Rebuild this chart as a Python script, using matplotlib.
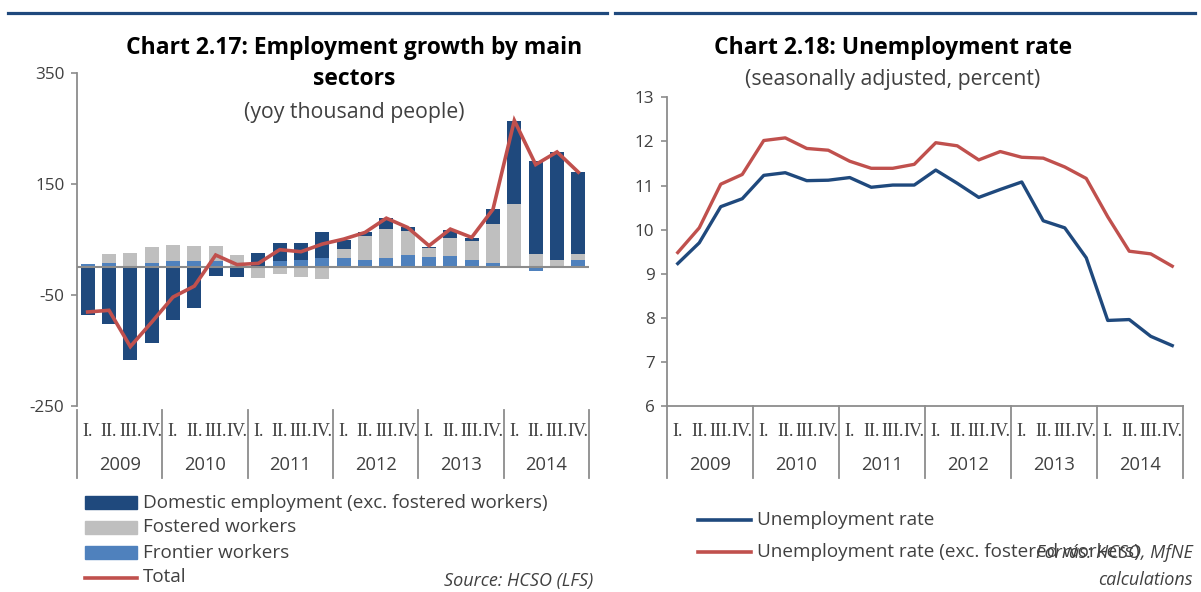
import matplotlib
matplotlib.use('Agg')
import matplotlib.pyplot as plt
import matplotlib.transforms as mtransforms
from matplotlib.lines import Line2D
from matplotlib.patches import Rectangle
import numpy as np

# Размер итоговой картинки в пикселях
W, H = 1201, 592

years = ['2009', '2010', '2011', '2012', '2013', '2014']
quarters = ['I.', 'II.', 'III.', 'IV.']

# Рост занятости по секторам, тыс. человек (г/г)
domestic = [-86.6, -102.7, -167.0, -137.3, -94.3, -73.4, -15.5, -18.0,
            24.0, 31.6, 29.9, 46.6, 16.7, 7.2, 18.5, 6.6,
            2.4, 15.0, 4.1, 26.9, 151.0, 167.0, 194.7, 147.4]
fostered = [0.0, 15.5, 25.0, 29.3, 29.3, 28.0, 26.3, 19.0,
            -19.0, -13.0, -16.7, -22.0, 16.1, 42.4, 53.1, 43.0,
            16.1, 31.0, 34.7, 69.8, 113.4, 23.9, 13.1, 10.8]
frontier = [5.4, 8.4, 0.0, 7.8, 10.7, 10.7, 11.3, 3.0,
            2.0, 12.0, 13.7, 16.1, 16.7, 13.1, 16.7, 22.1,
            18.5, 20.9, 13.1, 7.8, 0.0, -6.0, 0.0, 13.1]
total = [-80.6, -77.6, -143.0, -99.0, -53.7, -34.0, 22.0, 4.8,
         7.0, 31.6, 28.0, 41.8, 50.7, 62.7, 88.4, 71.6,
         38.8, 68.7, 53.7, 104.5, 264.5, 185.0, 207.8, 171.3]

# Уровень безработицы, %, сезонно скорректированный
unemp = [9.23, 9.70, 10.52, 10.70, 11.23, 11.29, 11.11, 11.12,
         11.18, 10.96, 11.01, 11.01, 11.35, 11.05, 10.73, 10.91,
         11.08, 10.20, 10.04, 9.36, 7.94, 7.96, 7.58, 7.37]
unemp_exc = [9.48, 10.04, 11.03, 11.25, 12.02, 12.08, 11.84, 11.80,
             11.55, 11.39, 11.39, 11.48, 11.97, 11.90, 11.58, 11.77,
             11.64, 11.62, 11.42, 11.16, 10.29, 9.51, 9.45, 9.17]

NAVY = '#1F497D'
GREY = '#BFBFBF'
LBLUE = '#4F81BD'
RED = '#C0504D'
AXIS = '#8C8C8C'
TXT = '#404040'

plt.rcParams['font.family'] = ['Open Sans', 'DejaVu Sans']
plt.rcParams['axes.unicode_minus'] = False

fig = plt.figure(figsize=(W / 100, H / 100), dpi=100)


def fy(y):
    return 1 - y / H


def px_axes(x0, y0, x1, y1):
    return fig.add_axes([x0 / W, fy(y1), (x1 - x0) / W, (y1 - y0) / H])


def style_axes(ax, show_bottom):
    for s in ['top', 'right']:
        ax.spines[s].set_visible(False)
    ax.spines['bottom'].set_visible(show_bottom)
    for s in ['left', 'bottom']:
        ax.spines[s].set_color(AXIS)
        ax.spines[s].set_linewidth(1.3)
    ax.tick_params(axis='y', length=4, width=1.2, color=AXIS,
                   labelsize=12.3, labelcolor=TXT, pad=5)
    ax.tick_params(axis='x', length=0, labelbottom=False)
    ax.set_xlim(-0.5, len(years) * 4 - 0.5)


def category_axis(ax, top_px):
    # двухуровневая подпись оси: кварталы и годы с разделителями
    trans = mtransforms.blended_transform_factory(ax.transData, fig.transFigure)
    n = len(years) * 4
    for i in range(n):
        ax.text(i, fy(431), quarters[i % 4], transform=trans, ha='center',
                va='center', fontsize=13, color=TXT,
                family='Liberation Serif')
    for j, yr in enumerate(years):
        ax.text(j * 4 + 1.5, fy(465), yr, transform=trans, ha='center',
                va='center', fontsize=13.2, color=TXT)
    for b in range(len(years) + 1):
        ax.add_artist(Line2D([b * 4 - 0.5] * 2, [fy(top_px), fy(478)],
                             transform=trans, color=AXIS, lw=1.3,
                             clip_on=False))


# Верхние синие линии-разделители
fig.add_artist(Line2D([8 / W, 607 / W], [fy(13)] * 2, color=NAVY, lw=2.3))
fig.add_artist(Line2D([615 / W, 1195 / W], [fy(13)] * 2, color=NAVY, lw=2.3))

# ---------- Chart 2.17 ----------
ax1 = px_axes(77, 73, 589, 406)
style_axes(ax1, show_bottom=False)
ax1.set_ylim(-250, 350)
ax1.set_yticks([-250, -50, 150, 350])

x = np.arange(len(total))
pos_base = np.zeros(len(x))
neg_base = np.zeros(len(x))
for vals, color in [(frontier, LBLUE), (fostered, GREY), (domestic, NAVY)]:
    v = np.array(vals)
    bottom = np.where(v >= 0, pos_base, neg_base)
    ax1.bar(x, v, 0.66, bottom=bottom, color=color, zorder=2)
    pos_base += np.clip(v, 0, None)
    neg_base += np.clip(v, None, 0)
ax1.axhline(0, color=AXIS, lw=1.5, zorder=3)
ax1.plot(x, total, color=RED, lw=2.6, zorder=4, solid_joinstyle='miter')
category_axis(ax1, 410)

fig.text(354 / W, fy(48), 'Chart 2.17: Employment growth by main',
         ha='center', va='center', fontsize=16.5, fontweight='bold', color='black')
fig.text(354 / W, fy(79), 'sectors', ha='center', va='center',
         fontsize=16.5, fontweight='bold', color='black')
fig.text(354 / W, fy(112), '(yoy thousand people)', ha='center', va='center',
         fontsize=15.3, color=TXT)

# легенда слева
leg1 = [('Domestic employment (exc. fostered workers)', NAVY, 'patch'),
        ('Fostered workers', GREY, 'patch'),
        ('Frontier workers', LBLUE, 'patch'),
        ('Total', RED, 'line')]
for k, (lab, col, kind) in enumerate(leg1):
    yc = 502.5 + 25 * k
    if kind == 'patch':
        fig.add_artist(Rectangle((85 / W, fy(yc + 6.5)), 52 / W, 13 / H,
                                 color=col, transform=fig.transFigure))
    else:
        fig.add_artist(Line2D([85 / W, 137 / W], [fy(yc)] * 2, color=col, lw=2.6))
    fig.text(143 / W, fy(yc), lab, ha='left', va='center', fontsize=13.6, color=TXT)

fig.text(593 / W, fy(581), 'Source: HCSO (LFS)', ha='right', va='center',
         fontsize=13, style='italic', color=TXT)

# ---------- Chart 2.18 ----------
ax2 = px_axes(667, 97.3, 1183, 406)
style_axes(ax2, show_bottom=True)
ax2.set_ylim(6, 13)
ax2.set_yticks(range(6, 14))
ax2.plot(x, unemp, color=NAVY, lw=2.4)
ax2.plot(x, unemp_exc, color=RED, lw=2.4)
category_axis(ax2, 406)

fig.text(893 / W, fy(48), 'Chart 2.18: Unemployment rate', ha='center',
         va='center', fontsize=16.5, fontweight='bold', color='black')
fig.text(893 / W, fy(80), '(seasonally adjusted, percent)', ha='center',
         va='center', fontsize=15.3, color=TXT)

fig.text(1193 / W, fy(553), 'Forrás: HCSO, MfNE', ha='right', va='center',
         fontsize=13, style='italic', color=TXT)
fig.text(1193 / W, fy(580), 'calculations', ha='right', va='center',
         fontsize=13, style='italic', color=TXT)

leg2 = [('Unemployment rate', NAVY),
        ('Unemployment rate (exc. fostered workers)', RED)]
for k, (lab, col) in enumerate(leg2):
    yc = 520 + 32 * k
    fig.add_artist(Line2D([698 / W, 751 / W], [fy(yc)] * 2, color=col, lw=2.6))
    fig.text(757 / W, fy(yc), lab, ha='left', va='center', fontsize=13.6, color=TXT)

fig.savefig('out.png', dpi=100)
